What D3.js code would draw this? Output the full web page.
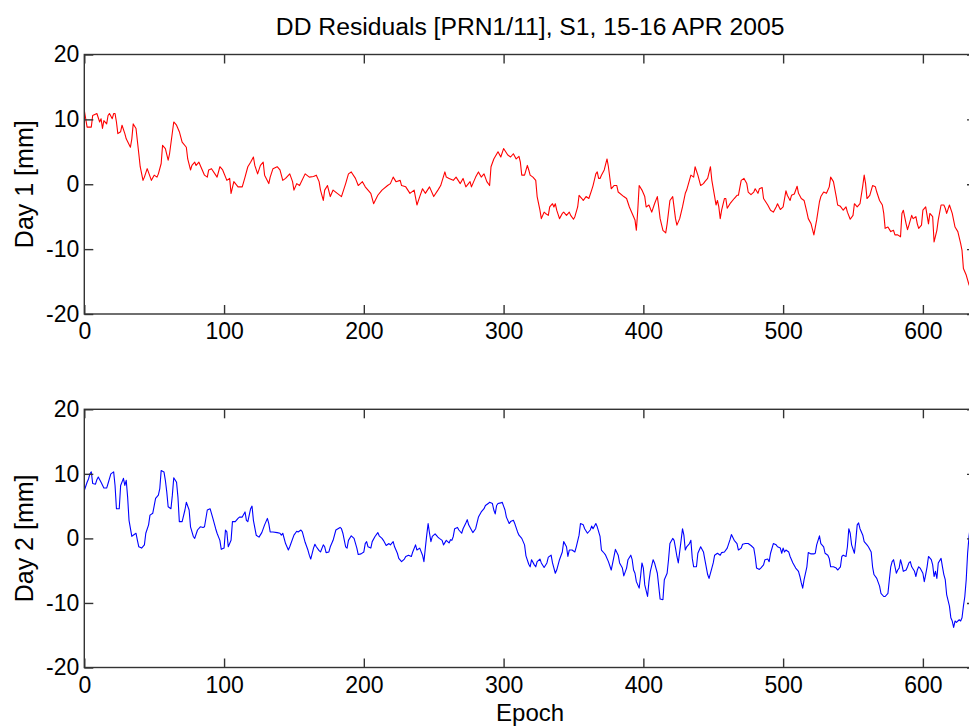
<!DOCTYPE html>
<html>
 <head>
  <title>DD Residuals</title>
  <style>
  body { margin: 0; background: #fff; }
  svg { display: block; font-family: "Liberation Sans", Arial, sans-serif; }
  </style>
  <script src="https://cdnjs.cloudflare.com/ajax/libs/d3/7.8.5/d3.min.js"></script>
 </head>
 <body>
  <script>
   // values
   const epochs1 = [0,2,5,6,9,11,12,13,14,16,17,18,20,21,22,23,24,26,27,29,30,33,34,35,37,39,40,42,43,45,48,50,52,53,55,56,58,60,61,64,66,68,70,73,74,76,77,79,80,82,84,86,88,89,91,95,97,99,102,104,105,107,110,113,115,117,119,121,122,124,126,128,129,132,133,135,138,140,142,144,147,149,150,152,154,158,161,164,166,168,169,171,172,174,176,178,181,184,187,189,191,194,196,199,201,205,207,210,213,217,219,221,223,226,227,230,233,236,238,240,242,244,247,250,253,255,258,259,261,264,266,269,271,273,276,277,280,282,284,286,288,290,291,293,296,298,300,303,305,307,309,311,312,313,315,317,318,319,321,323,324,326,327,329,330,332,333,335,336,337,338,340,342,343,345,347,348,350,351,353,354,356,357,359,361,363,364,366,367,368,369,370,372,374,375,377,379,381,382,386,388,390,392,394,395,396,397,399,401,402,404,406,408,410,411,412,414,416,417,419,421,423,424,426,428,430,431,434,436,437,439,441,443,444,446,448,449,451,452,453,454,455,456,458,459,460,462,465,467,468,470,472,474,475,477,479,480,482,483,485,486,489,491,493,495,496,498,500,502,503,505,506,508,510,511,513,515,517,518,520,522,524,526,527,529,531,533,534,536,538,539,541,543,545,546,548,550,551,553,555,557,558,559,560,562,564,566,567,569,571,572,573,575,577,579,580,582,584,585,586,588,589,590,592,593,595,596,597,599,600,602,603,604,605,607,608,610,611,613,615,616,617,619,621,623,625,627,628,629,631,633,635];
   const day1 = [11.4,8.8,8.8,10.6,10.9,9.6,10.1,8.6,9.8,9.3,10.6,10.9,10.1,10.9,10.9,9.6,7.8,8.1,9.1,7.8,7.0,5.7,7.0,9.3,8.6,4.7,2.7,0.6,1.1,2.4,0.6,1.4,1.1,1.6,3.2,6.0,5.5,3.7,4.7,9.6,9.1,8.1,6.5,5.7,3.9,2.2,2.9,3.4,2.9,3.4,2.4,1.4,1.1,2.2,2.4,1.1,2.7,2.2,0.6,0.9,-1.4,0.4,-0.4,-0.4,1.1,2.7,3.4,4.2,2.9,1.6,2.9,3.4,1.4,0.1,1.1,2.4,2.7,2.2,0.6,0.9,1.6,0.4,-0.9,0.1,-0.2,1.6,1.1,1.2,1.4,0.4,-0.9,-2.5,-0.9,-0.2,-1.9,-0.9,-1.4,-1.9,0.1,1.6,1.9,0.9,-0.2,0.4,-0.4,-1.4,-3.0,-1.7,-0.9,-0.2,0.1,1.1,0.4,0.6,-0.2,-0.4,-1.4,-0.9,-3.2,-1.9,-0.7,-1.4,-0.4,-1.9,-0.9,-0.2,1.9,1.1,0.9,0.6,1.1,0.1,0.9,-0.4,0.4,-0.4,1.1,1.9,1.1,1.6,0.4,-0.2,2.7,3.9,5.0,4.2,5.5,4.5,4.2,4.7,3.9,4.3,3.4,1.4,1.4,2.9,2.2,1.4,1.1,0.6,-1.9,-4.0,-5.3,-4.3,-4.5,-4.8,-3.5,-3.0,-3.5,-3.0,-4.0,-5.3,-4.5,-4.3,-4.8,-4.3,-4.8,-5.4,-5.0,-3.5,-1.7,-2.2,-2.5,-1.9,-2.2,-0.9,-0.2,1.6,1.9,0.9,0.9,1.4,2.2,3.9,2.7,-0.7,-0.2,-0.2,-1.2,-1.9,-2.2,-3.5,-4.5,-5.5,-7.1,-4.0,-0.2,-0.9,-1.9,-3.5,-3.2,-4.3,-3.0,-1.9,-3.5,-5.3,-7.1,-7.5,-6.1,-2.5,-1.9,-5.3,-6.3,-5.3,-3.5,-1.4,-0.9,1.4,1.1,2.7,1.4,-0.2,0.1,0.4,0.9,2.7,0.6,-1.9,-3.2,-2.5,-3.5,-5.3,-4.0,-2.2,-2.2,-3.7,-3.0,-2.2,-1.7,-1.7,0.6,0.9,0.1,-1.2,-1.6,-1.2,-0.7,-1.4,-0.7,-0.5,-2.2,-3.2,-4.0,-4.3,-3.5,-3.0,-3.9,-3.5,-1.0,-1.7,-2.5,-1.7,-1.5,-0.3,-1.4,-2.2,-2.5,-4.3,-5.3,-6.1,-7.8,-5.5,-2.7,-1.9,-1.2,-1.4,-0.4,1.1,0.4,-1.9,-3.2,-3.4,-4.0,-3.5,-4.3,-5.4,-4.8,-3.0,-3.5,-3.0,-0.2,1.4,0.1,-2.2,-1.7,-0.2,-0.4,-1.2,-2.5,-3.2,-4.5,-6.8,-6.6,-7.3,-7.1,-7.8,-7.8,-8.1,-4.5,-4.0,-6.1,-7.0,-6.3,-4.8,-5.3,-5.0,-6.1,-6.8,-6.3,-4.0,-3.5,-4.8,-6.1,-4.5,-5.0,-8.9,-7.1,-5.5,-3.2,-3.2,-3.7,-4.5,-3.2,-4.5,-6.6,-7.3,-9.1,-10.2,-13.0,-14.0,-15.5,-16.3];

   const epochs2 = [0,2,3,4,5,6,8,9,10,12,14,16,17,19,21,22,23,25,26,28,29,30,31,32,34,35,37,38,39,41,43,44,46,47,49,51,53,54,55,57,58,59,60,62,63,64,66,67,68,70,72,73,75,76,78,79,81,83,85,86,88,90,92,94,95,97,98,100,101,102,103,105,106,108,110,111,113,115,116,117,119,120,121,123,125,127,129,131,132,133,135,138,140,141,142,144,146,147,150,152,153,155,156,158,160,161,162,164,165,166,168,169,171,172,173,175,176,178,180,183,184,185,187,188,189,191,193,195,196,198,200,201,202,203,205,206,208,210,211,213,214,216,218,219,221,222,224,225,227,229,230,232,234,235,237,238,240,242,243,244,245,246,247,248,249,251,253,254,256,257,259,261,262,263,264,265,267,268,270,271,273,274,275,277,278,280,282,284,286,287,289,290,292,293,294,295,296,298,299,300,301,302,304,305,307,308,310,311,313,315,316,318,319,320,322,323,324,326,327,329,331,332,334,335,337,338,340,342,343,345,346,347,349,351,352,354,355,357,358,360,362,363,364,366,367,369,370,372,373,375,377,379,380,382,383,385,386,388,389,391,392,393,394,395,397,398,399,400,401,403,404,405,407,408,410,411,412,414,415,417,418,419,421,422,423,424,425,427,428,429,430,431,433,434,435,436,438,439,441,443,444,446,447,449,450,451,453,455,456,458,460,462,463,465,467,468,470,471,473,475,477,479,480,481,483,484,486,487,489,490,491,493,495,496,498,499,500,501,502,504,505,507,509,511,512,513,514,515,517,518,520,522,523,524,526,527,529,530,532,533,534,536,538,539,541,542,543,545,546,547,548,549,551,552,553,554,555,557,558,560,561,563,564,565,567,569,570,572,573,575,576,577,578,579,581,582,583,584,585,586,588,589,590,591,592,594,595,596,597,598,600,601,602,603,604,606,607,608,609,610,611,613,614,615,616,617,619,620,621,622,623,624,626,627,628,629,630,631,632,633,634,636];
   const day2 = [7.4,8.7,9.2,10.0,10.3,8.5,8.4,9.1,9.5,8.7,7.8,7.8,8.5,10.0,10.3,8.2,4.6,4.6,8.2,9.3,8.2,9.0,6.4,2.8,0.3,0.5,0.8,-0.3,-1.3,-1.5,-1.0,0.8,2.1,3.6,3.9,6.2,6.7,7.7,10.5,10.3,9.0,7.2,4.9,4.6,6.7,9.4,8.7,6.4,2.6,2.6,4.4,5.6,4.4,1.8,0.3,0.0,1.3,1.8,1.7,1.8,4.4,4.6,3.1,1.5,0.8,-0.3,-1.7,-1.5,1.3,1.0,-1.3,-0.3,2.6,2.6,3.1,3.3,3.3,4.1,2.8,2.6,4.6,5.0,2.8,0.5,0.2,0.9,2.1,3.1,2.3,1.0,1.0,0.9,0.8,0.5,0.8,-0.8,-1.8,-1.3,0.5,1.1,1.0,1.3,1.0,-0.6,-1.8,-2.6,-3.2,-1.5,-0.9,-1.3,-1.9,-2.1,-1.0,-1.3,-2.2,-2.1,-1.3,-0.3,1.3,1.7,1.5,0.8,-1.3,-1.5,-0.3,0.4,0.0,-1.5,-2.5,-2.4,-2.1,-0.8,-0.5,-1.3,-1.5,-0.5,0.3,0.9,0.4,0.0,-0.3,-1.1,-0.8,-1.0,-0.5,-1.3,-2.3,-3.1,-3.6,-3.2,-2.8,-2.6,-2.8,-2.1,-1.0,-1.8,-1.5,-2.6,-3.6,-1.5,0.5,2.3,0.8,-0.5,0.3,0.7,0.2,0.0,-0.3,-1.0,-0.3,-0.7,-0.2,-0.3,0.3,1.5,1.7,1.3,0.8,1.5,2.4,2.9,2.1,1.3,0.9,1.5,3.3,4.1,4.6,5.1,5.4,5.6,5.4,4.4,3.8,5.1,5.4,5.5,5.6,5.0,4.4,3.3,2.3,2.6,2.8,2.3,1.0,0.5,0.0,-1.0,-2.7,-4.0,-4.4,-3.3,-4.1,-4.4,-3.6,-3.2,-3.8,-4.5,-3.8,-2.9,-2.6,-3.8,-5.4,-4.9,-3.3,-2.1,-0.5,-1.3,-2.8,-1.8,-1.8,-2.1,-1.3,0.5,2.3,2.1,1.5,0.8,1.3,1.9,1.5,2.3,1.8,0.3,-1.8,-2.3,-2.6,-3.6,-4.9,-2.8,-1.7,-2.6,-3.8,-4.6,-5.8,-4.6,-3.3,-2.6,-3.3,-4.9,-5.4,-6.7,-7.7,-5.9,-3.8,-4.6,-7.2,-9.0,-6.7,-5.1,-3.3,-3.8,-5.4,-7.4,-9.4,-9.5,-6.4,-5.4,-3.3,-0.8,0.0,-0.3,-1.5,-2.8,-3.8,-0.3,1.5,0.5,-1.8,-1.3,-0.8,-0.3,-3.1,-4.4,-4.4,-2.3,-1.3,-2.1,-3.3,-5.6,-6.2,-4.6,-3.8,-2.6,-2.3,-2.6,-2.2,-2.1,-1.5,-0.2,0.6,-0.3,-0.8,-1.8,-1.5,-0.9,-0.8,-0.8,-1.1,-1.5,-2.8,-4.6,-4.8,-4.6,-4.1,-3.3,-3.2,-3.6,-2.3,-0.8,-1.0,-1.3,-1.5,-2.3,-1.5,-2.1,-1.8,-2.1,-2.8,-3.8,-4.6,-5.1,-5.9,-6.9,-7.7,-6.4,-4.4,-2.2,-2.4,-2.4,-2.3,-1.0,0.4,-0.8,-1.3,-2.3,-2.6,-3.1,-4.4,-4.4,-4.6,-4.9,-4.4,-2.8,-2.6,-2.8,-1.3,1.5,0.8,-1.0,-2.3,-0.3,2.1,2.4,1.5,0.5,-0.5,-1.0,-1.3,-2.1,-4.4,-5.6,-6.2,-7.4,-8.5,-9.0,-9.0,-8.5,-6.4,-4.4,-3.6,-3.3,-5.4,-4.9,-4.6,-3.3,-4.1,-5.1,-4.9,-4.4,-3.8,-3.6,-4.4,-5.1,-5.9,-4.9,-4.4,-4.6,-5.4,-6.7,-5.6,-4.4,-2.8,-3.3,-4.1,-5.9,-5.1,-6.2,-3.8,-3.1,-4.4,-5.6,-6.4,-8.7,-10.5,-12.3,-12.8,-13.8,-12.8,-13.0,-12.6,-12.8,-12.3,-10.5,-9.0,-6.4,-2.3,0.3,2.1,4.0];

   const xTicks = [0, 100, 200, 300, 400, 500, 600];
   const yTicks = [-20, -10, 0, 10, 20];
   const xMax = 638;
   const yRange = [-20, 20];

   const titleText = "DD Residuals [PRN1/11], S1, 15-16 APR 2005";
   const panels = [
    {label: "Day 1 [mm]", epochs: epochs1, values: day1, color: "red", top: 54.5, bottom: 314},
    {label: "Day 2 [mm]", epochs: epochs2, values: day2, color: "blue", top: 409.3, bottom: 667.5}
   ];

   const w = 969;
   const h = 728;
   const left = 84.3;
   const right = 976;
   const tick = 9;

   const svg = d3.select("body")
                 .append("svg")
                 .attr("width", w)
                 .attr("height", h);

   svg.append("rect")
      .attr("width", w)
      .attr("height", h)
      .attr("fill", "white");

   const xScale = d3.scaleLinear()
                    .domain([0, xMax])
                    .range([left, right]);

   panels.forEach((p, i) => {
    const yScale = d3.scaleLinear()
                     .domain(yRange)
                     .range([p.bottom, p.top]);
    const g = svg.append("g");

    g.append("clipPath")
     .attr("id", "clip" + i)
     .append("rect")
     .attr("x", left)
     .attr("y", p.top)
     .attr("width", right - left)
     .attr("height", p.bottom - p.top);

    const pts = p.epochs.map((e, k) => [e, p.values[k]]);
    const line = d3.line()
                   .x(d => xScale(d[0]))
                   .y(d => yScale(d[1]));
    g.append("path")
     .datum(pts)
     .attr("clip-path", "url(#clip" + i + ")")
     .attr("fill", "none")
     .attr("stroke", p.color)
     .attr("stroke-width", 1.1)
     .attr("stroke-linejoin", "round")
     .attr("d", line);

    const xAxis = d3.axisBottom(xScale)
                    .tickValues(xTicks)
                    .tickSizeInner(-tick)
                    .tickSizeOuter(0)
                    .tickPadding(9)
                    .tickFormat(d => d);
    const xTop = d3.axisTop(xScale)
                   .tickValues(xTicks)
                   .tickSizeInner(-tick)
                   .tickSizeOuter(0)
                   .tickFormat("");
    const yAxis = d3.axisLeft(yScale)
                    .tickValues(yTicks)
                    .tickSizeInner(-tick)
                    .tickSizeOuter(0)
                    .tickPadding(5)
                    .tickFormat(d => d);
    const yRight = d3.axisRight(yScale)
                     .tickValues(yTicks)
                     .tickSizeInner(-tick)
                     .tickSizeOuter(0)
                     .tickFormat("");

    const axes = [
     g.append("g").attr("transform", "translate(0," + p.bottom + ")").call(xAxis),
     g.append("g").attr("transform", "translate(0," + p.top + ")").call(xTop),
     g.append("g").attr("transform", "translate(" + left + ",0)").call(yAxis),
     g.append("g").attr("transform", "translate(" + right + ",0)").call(yRight)
    ];
    axes.forEach(a => {
     a.select(".domain").remove();
     a.selectAll("line").attr("stroke", "#333").attr("stroke-width", 1.4);
     a.selectAll("text")
      .attr("fill", "black")
      .style("font-size", "23px")
      .style("font-family", "'Liberation Sans', Arial, sans-serif");
    });

    g.append("rect")
     .attr("x", left)
     .attr("y", p.top)
     .attr("width", right - left)
     .attr("height", p.bottom - p.top)
     .attr("fill", "none")
     .attr("stroke", "#333")
     .attr("stroke-width", 1.4);

    g.append("text")
     .attr("transform", "translate(33," + (p.top + p.bottom) / 2 + ") rotate(-90)")
     .attr("text-anchor", "middle")
     .style("font-size", "25px")
     .text(p.label);
   });

   svg.append("text")
      .attr("x", (left + right) / 2)
      .attr("y", 35)
      .attr("text-anchor", "middle")
      .style("font-size", "24.7px")
      .text(titleText);

   svg.append("text")
      .attr("x", (left + right) / 2)
      .attr("y", 721)
      .attr("text-anchor", "middle")
      .style("font-size", "24px")
      .text("Epoch");
  </script>
 </body>
</html>
